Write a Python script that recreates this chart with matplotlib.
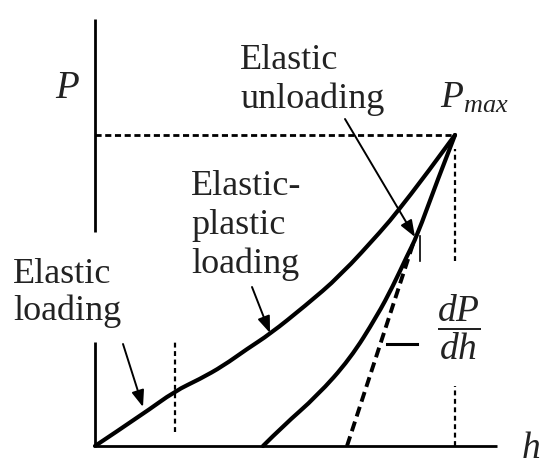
import numpy as np
import matplotlib
matplotlib.use("Agg")
import matplotlib.pyplot as plt
from matplotlib.path import Path
from matplotlib.patches import PathPatch

plt.rcParams['font.family'] = ['Liberation Serif', 'DejaVu Serif']
plt.rcParams['mathtext.fontset'] = 'custom'
plt.rcParams['mathtext.rm'] = 'Liberation Serif'
plt.rcParams['mathtext.it'] = 'Liberation Serif:italic'

# depth h and load P (arbitrary units)
load_h = [0, 48, 80, 105, 128, 152, 175, 210, 245, 288, 302, 330, 360]
load_P = [0, 32, 55, 67, 80, 97, 112, 140, 170, 217, 234, 270, 311]

unload_h = [168, 188, 222, 255, 282, 298, 312, 322, 341, 360]
unload_P = [0, 20, 50, 87, 130, 160, 190, 210, 262, 311]

# tangent to the top of the unloading curve (stiffness dP/dh)
tangent_h = [252, 318]
tangent_P = [0, 202]

h_max, P_max = 360, 311
h_elastic = 80                # end of elastic loading
h_axis_end, P_axis_end = 402, 427
P_gap = (104, 214)            # P axis is broken behind the "Elastic loading" label

# annotation arrows: (tail_h, tail_P, tip_h, tip_P)
arrow_elastic = (28, 102, 48, 39)
arrow_plastic = (157, 159, 175, 113)
arrow_unload = (250, 327, 320, 209)

# small marks next to the tangent
slope_tick_h = [292, 322]
slope_tick_P = [102, 102]
bar_h = [325, 325]
bar_P = [185, 210]


def smooth_path(xs, ys):
    # quadratic bezier through the midpoints, read points act as controls
    pts = list(zip(xs, ys))
    verts = [pts[0]]
    codes = [Path.MOVETO]
    for i in range(1, len(pts) - 1):
        mid = ((pts[i][0] + pts[i + 1][0]) / 2, (pts[i][1] + pts[i + 1][1]) / 2)
        if i == len(pts) - 2:
            mid = pts[-1]
        verts += [pts[i], mid]
        codes += [Path.CURVE3, Path.CURVE3]
    return Path(verts, codes)


fig = plt.figure(figsize=(5.5, 4.77), dpi=100)
ax = fig.add_axes([0, 0, 1, 1])
ax.set_xlim(-95, 455)
ax.set_ylim(-30, 447)
ax.axis('off')

# axes
ax.plot([0, 0], [0, P_gap[0]], color='black', lw=2, solid_capstyle='butt')
ax.plot([0, 0], [P_gap[1], P_axis_end], color='black', lw=2, solid_capstyle='butt')
ax.plot([0, h_axis_end], [0, 0], color='black', lw=2, solid_capstyle='butt')

# guide lines
ax.plot([0, h_max], [P_max, P_max], color='black', lw=2, linestyle=(0, (2.2, 1.3)))
ax.plot([h_max, h_max], [185, 297], color='black', lw=1.6, linestyle=(0, (2.2, 1.6)))
ax.plot([h_max, h_max], [0, 60], color='black', lw=1.6, linestyle=(0, (2.2, 1.6)))
ax.plot([h_elastic, h_elastic], [14, 104], color='black', lw=1.6, linestyle=(0, (2.2, 1.6)))

# curves
for xs, ys in ((load_h, load_P), (unload_h, unload_P)):
    ax.add_patch(PathPatch(smooth_path(xs, ys), facecolor='none', edgecolor='black',
                           lw=3, capstyle='round', joinstyle='round'))
ax.plot(tangent_h, tangent_P, color='black', lw=2.8, linestyle=(0, (2.6, 1.4)))

ax.plot(slope_tick_h, slope_tick_P, color='black', lw=2.2)
ax.plot(bar_h, bar_P, color='black', lw=1.2)

arrow_style = dict(arrowstyle='-|>,head_length=1.0,head_width=0.38', color='black',
                   lw=1.4, shrinkA=0, shrinkB=0)
for a in (arrow_elastic, arrow_plastic, arrow_unload):
    ax.annotate('', xy=(a[2], a[3]), xytext=(a[0], a[1]), arrowprops=arrow_style)

txt = '#222222'
ax.text(-40, 349, 'P', fontsize=28, style='italic', color=txt, va='baseline')
ax.text(427, -11, 'h', fontsize=27, style='italic', color=txt, va='baseline')
ax.text(345, 339, r'$P_{max}$', fontsize=27, color=txt, va='baseline')
ax.text(145, 339, 'Elastic\nunloading', fontsize=26, color=txt, va='baseline', linespacing=1.22)
ax.text(96, 174, 'Elastic-\nplastic\nloading', fontsize=26, color=txt, va='baseline', linespacing=1.22)
ax.text(-82, 127, 'Elastic\nloading', fontsize=26, color=txt, va='baseline', linespacing=1.15)
ax.text(364, 120, r'$\dfrac{dP}{dh}$', fontsize=27, color=txt, ha='center', va='center')

fig.savefig('out.png', dpi=100)
